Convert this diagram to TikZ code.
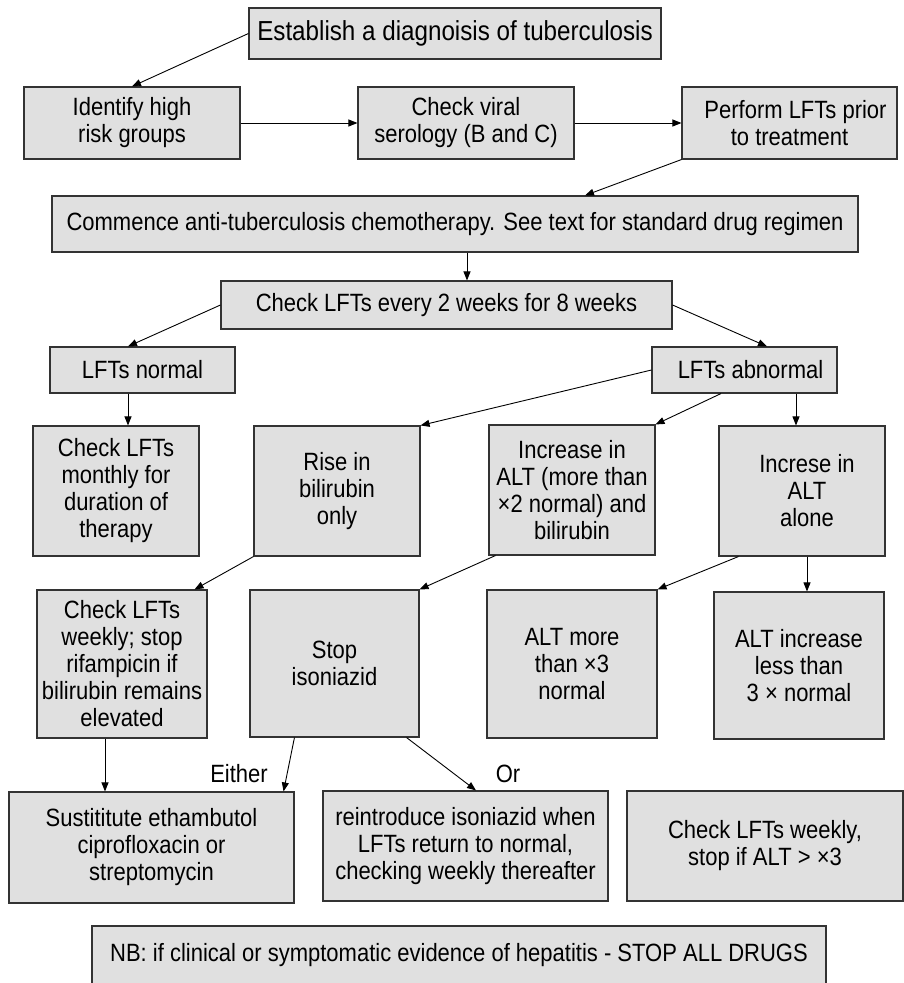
\documentclass[tikz,border=0pt]{standalone}
\usepackage{fontspec}
\setmainfont{Liberation Sans}[FakeStretch=0.88]
\usetikzlibrary{arrows.meta, positioning, calc}

\begin{document}
\begin{tikzpicture}[x=1pt, y=-1pt,
  box/.style={draw=black!80, line width=1.1pt, fill=black!12, inner sep=0pt, align=center,
    font=\fontsize{25}{27}\selectfont},
  lbl/.style={inner sep=0pt, font=\fontsize{25}{27}\selectfont},
  arr/.style={->, line width=0.9pt},
  >={Triangle[length=9pt, width=7pt]}]
\useasboundingbox (0,0) rectangle (903,983);

\node[box, minimum width=412pt, minimum height=51pt, font=\fontsize{27.5}{30}\selectfont] (diag) at (455,33.5) {Establish a diagnoisis of tuberculosis};

\node[box, minimum width=216pt, minimum height=72pt] (risk) at (132,123) {Identify high\\risk groups};
\node[box, minimum width=216pt, minimum height=72pt] (sero) at (466,123) {Check viral\\serology (B and C)};
\node[box, minimum width=215pt, minimum height=72pt] (prior) at (789.5,123) {\hspace{12pt}Perform LFTs prior\\to treatment};

\node[box, minimum width=806pt, minimum height=56pt] (chemo) at (455,224) {Commence anti-tuberculosis chemotherapy. See text for standard drug regimen};
\node[box, minimum width=451pt, minimum height=48pt] (every) at (446.5,305) {Check LFTs every 2 weeks for 8 weeks};

\node[box, minimum width=185pt, minimum height=46pt] (normal) at (142.5,370) {LFTs normal};
\node[box, minimum width=185pt, minimum height=46pt] (abnormal) at (744.5,370) {\hspace{12pt}LFTs abnormal};

\node[box, minimum width=166pt, minimum height=130pt] (monthly) at (116,491) {Check LFTs\\monthly for\\duration of\\therapy};
\node[box, minimum width=166pt, minimum height=130pt] (bili) at (337,491) {Rise in\\bilirubin\\only};
\node[box, minimum width=166pt, minimum height=130pt] (altbili) at (572,490) {Increase in\\ALT (more than\\×2 normal) and\\bilirubin};
\node[box, minimum width=166pt, minimum height=130pt] (altalone) at (802,491) {\hspace{10pt}Increse in\\\hspace{10pt}ALT\\\hspace{10pt}alone};

\node[box, minimum width=170pt, minimum height=148pt] (weekly) at (122,664) {Check LFTs\\weekly; stop\\rifampicin if\\bilirubin remains\\elevated};
\node[box, minimum width=169pt, minimum height=147pt] (stopiso) at (334.5,663.5) {Stop\\isoniazid};
\node[box, minimum width=170pt, minimum height=148pt] (altmore) at (572,664) {ALT more\\than ×3\\normal};
\node[box, minimum width=170pt, minimum height=147pt] (altless) at (799,665.5) {ALT increase\\less than\\3 × normal};

\node[box, minimum width=285pt, minimum height=111pt] (subst) at (151.5,847.5) {Sustititute ethambutol\\ciprofloxacin or\\streptomycin};
\node[box, minimum width=285pt, minimum height=110pt] (reintro) at (465.5,846) {reintroduce isoniazid when\\LFTs return to normal,\\checking weekly thereafter};
\node[box, minimum width=276pt, minimum height=110pt] (lftweekly) at (765,846) {Check LFTs weekly,\\stop if ALT > ×3};

\node[box, minimum width=734pt, minimum height=58pt] (nb) at (459,955) {NB: if clinical or symptomatic evidence of hepatitis - STOP ALL DRUGS};

\node[lbl] (either) at (239,774) {Either};
\node[lbl] (or) at (508,774) {Or};

\draw[arr] (diag.west) -- (risk.north);
\draw[arr] (risk.east) -- (sero.west);
\draw[arr] (sero.east) -- (prior.west);
\draw[arr] (prior.south west) -- ([xshift=130pt]chemo.north);
\draw[arr] ([xshift=12pt]chemo.south) -- ([xshift=20.5pt]every.north);
\draw[arr] (every.west) -- ([xshift=-14.5pt]normal.north);
\draw[arr] (every.east) -- ([xshift=22.5pt]abnormal.north);
\draw[arr] ([xshift=-14.5pt]normal.south) -- ([xshift=12pt]monthly.north);
\draw[arr] (abnormal.west) -- (bili.north east);
\draw[arr] ([xshift=-23.5pt]abnormal.south) -- (altbili.north east);
\draw[arr] ([xshift=51.5pt]abnormal.south) -- ([xshift=-6pt]altalone.north);
\draw[arr] (bili.south west) -- ([xshift=-13pt]weekly.north east);
\draw[arr] ([xshift=7pt]altbili.south west) -- (stopiso.north east);
\draw[arr] ([xshift=20pt]altalone.south west) -- (altmore.north east);
\draw[arr] ([xshift=5pt]altalone.south) -- ([xshift=8pt]altless.north);
\draw[arr] ([xshift=-17pt]weekly.south) -- ([xshift=-46.5pt]subst.north);
\draw[arr] ([xshift=45pt]stopiso.south west) -- ([xshift=-11pt]subst.north east);
\draw[arr] ([xshift=-13pt]stopiso.south east) -- ([xshift=10.5pt]reintro.north);
\end{tikzpicture}
\end{document}
